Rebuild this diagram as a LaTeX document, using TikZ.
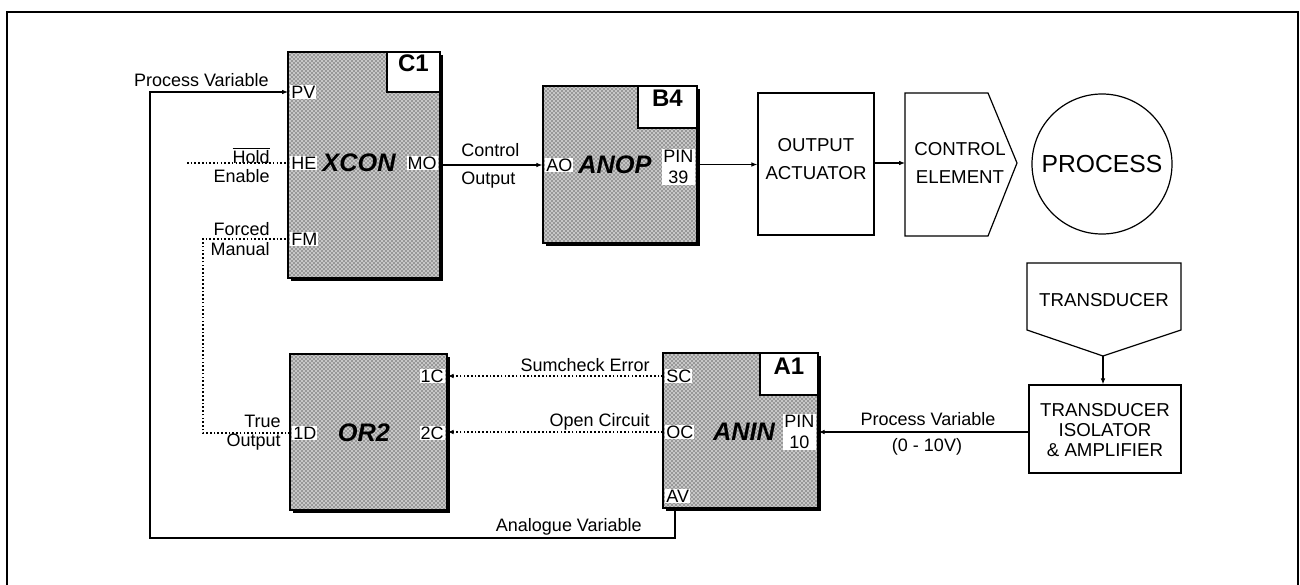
\documentclass[tikz,border=0pt]{standalone}
\usepackage{fontspec}
\setmainfont{Liberation Sans}
\usetikzlibrary{patterns,shadows,fit,arrows.meta}
\begin{document}
\begin{tikzpicture}[x=0.75pt,y=-0.75pt,
 ln/.style={line width=0.8pt},
 arr/.style={ln,-{Latex[length=4.5pt,width=3.5pt]}},
 dotln/.style={line width=1pt, dash pattern=on 1.2pt off 1.6pt},
 dotarr/.style={dotln,-{Latex[length=4.5pt,width=3.5pt]}},
 blk/.style={draw, line width=0.9pt, inner sep=0pt,
   drop shadow={fill=black, opacity=1, shadow xshift=2.5pt, shadow yshift=-2.5pt},
   preaction={fill=black!22}, pattern=crosshatch dots, pattern color=black},
 tagbox/.style={draw, fill=white, line width=0.9pt, inner sep=0pt, font=\fontsize{18}{20}\selectfont\bfseries},
 port/.style={font=\fontsize{13.5}{15}\selectfont, fill=white, inner sep=0.8pt},
 pinlbl/.style={font=\fontsize{13.5}{15.5}\selectfont, fill=white, inner sep=1pt, align=center},
 fname/.style={font=\fontsize{19}{21}\selectfont\bfseries\itshape, inner sep=0pt},
 lbl/.style={font=\fontsize{13.5}{14.5}\selectfont, inner sep=0pt},
 box/.style={draw, line width=0.9pt, inner sep=0pt, align=center},
 capt/.style={font=\fontsize{14}{20.5}\selectfont, align=center, inner sep=0pt}
]
\useasboundingbox (0,0) rectangle (1300,585);
% outer frame
\draw[ln] (7,585) -- (7,12) -- (1298,12) -- (1298,585);

% ---- blocks ----
\node[blk, fit={(288,52)(440,278)}] (c1) {};
\node[tagbox, fit={(387,52)(440,92)}] (c1tag) {C1};
\node[blk, fit={(543,86)(697,243)}] (b4) {};
\node[tagbox, fit={(638,86)(697,128)}] (b4tag) {B4};
\node[blk, fit={(290,354)(447,510)}] (or2) {};
\node[blk, fit={(663,353)(818,508)}] (a1) {};
\node[tagbox, fit={(760,353)(818,395)}] (a1tag) {A1};

% C1 contents
\node[port, anchor=west] (pv) at (290,92) {PV};
\node[port, anchor=west] (he) at (290,163) {HE};
\node[port, anchor=west] (fm) at (290,239) {FM};
\node[port, anchor=east] (mo) at (438,163) {MO};
\node[fname] (xcon) at (359,163) {XCON};
% B4 contents
\node[port, anchor=west] (ao) at (545,165) {AO};
\node[fname] (anop) at (615,165) {ANOP};
\node[pinlbl, anchor=east] (pin39) at (695,167) {PIN\\39};
% OR2 contents
\node[port, anchor=west] (d1) at (292,433) {1D};
\node[fname] (or2name) at (364,433) {OR2};
\node[port, anchor=east] (c1in) at (445,376) {1C};
\node[port, anchor=east] (c2in) at (445,433) {2C};
% A1 contents
\node[port, anchor=west] (sc) at (665,376) {SC};
\node[port, anchor=west] (oc) at (665,432) {OC};
\node[port, anchor=west] (av) at (665,496) {AV};
\node[fname] (anin) at (744,432) {ANIN};
\node[pinlbl, anchor=east] (pin10) at (816,432) {PIN\\10};

% ---- right-hand units ----
\node[box, fit={(758,93)(874,235)}] (oa) {};
\node[capt] (oatext) at (816,159) {OUTPUT\\ACTUATOR};
\draw[line width=0.9pt] (905,93) -- (988,93) -- (1017,163) -- (988,236) -- (905,236) -- cycle;
\node[capt] (cetext) at (960,163) {CONTROL\\ELEMENT};
\coordinate (ceL) at (905,163);
\node[circle, draw, line width=0.9pt, minimum size=105pt, inner sep=0pt,
      font=\fontsize{18.5}{20}\selectfont] (proc) at (1102,164) {PROCESS};
\draw[line width=0.9pt] (1027,263) -- (1181,263) -- (1181,330) -- (1103,356) -- (1027,330) -- cycle;
\node[capt] (tdtext) at (1104,300) {TRANSDUCER};
\coordinate (tdtip) at (1103,356);
\node[box, fit={(1029,385)(1181,473)}] (tia) {};
\node[capt, font=\fontsize{14}{14.8}\selectfont] (tiatext) at (1105,430) {TRANSDUCER\\ISOLATOR\\\&\ AMPLIFIER};

% ---- connectors ----
\coordinate (c1pv) at (288,92);
\coordinate (c1he) at (288,163);
\coordinate (c1fm) at (288,239);
\coordinate (heL) at (187,163);
\coordinate (fmk) at (203,239);
\coordinate (or2d) at (290,433);
\coordinate (loopL) at (150,538);
\coordinate (a1av) at (675,508);
\coordinate (a1sc) at (663,376);
\coordinate (a1oc) at (663,432);

\draw[arr] (a1av) |- (loopL) |- (c1pv);
\draw[dotln] (heL) -- (c1he);
\draw[dotln] (or2d) -| (fmk) -- (c1fm);
\draw[arr] (c1.east) -- (c1.east -| b4.west);
\draw[arr] (b4.east) -- (b4.east -| oa.west);
\draw[arr] (oa.east |- ceL) -- (ceL);
\draw[arr] (tdtip) -- (tdtip |- tia.north);
\draw[arr] (tia.west |- a1oc) -- (a1.east |- a1oc);
\draw[dotarr] (a1sc) -- (a1sc -| or2.east);
\draw[dotarr] (a1oc) -- (a1oc -| or2.east);

% ---- labels ----
\node[lbl, anchor=east] (lpv) at (269,80) {Process Variable};
\node[lbl, anchor=east, align=right] (lhold) at (270,165) {$\overline{\hbox{Hold}}$\\Enable};
\node[lbl, anchor=east, align=right] (lfm) at (270,239) {Forced\\Manual};
\node[lbl, anchor=east, align=right] (ltrue) at (281,433) {True\\Output};
\node[lbl, anchor=west, align=left, font=\fontsize{13.5}{21.5}\selectfont] (lco) at (461,166) {Control\\Output};
\node[lbl, anchor=east] (lsum) at (650,365) {Sumcheck Error};
\node[lbl, anchor=east] (lopen) at (650,422) {Open Circuit};
\node[lbl, anchor=east] (lav) at (642,527) {Analogue Variable};
\node[lbl] (lpv2) at (928,419) {Process Variable};
\node[lbl] (lrange) at (927,447) {(0 - 10V)};
\end{tikzpicture}
\end{document}
